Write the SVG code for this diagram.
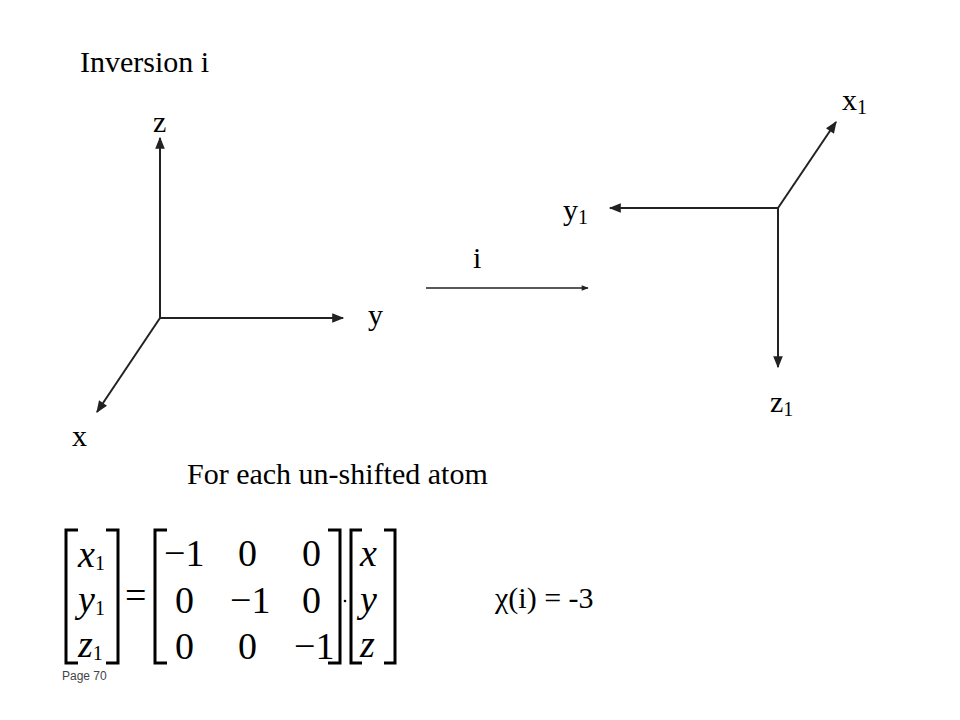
<svg xmlns="http://www.w3.org/2000/svg" width="960" height="720" viewBox="0 0 960 720">
<defs>
<marker id="ah" viewBox="0 0 10 10" refX="9" refY="5" markerWidth="14" markerHeight="12" markerUnits="userSpaceOnUse" orient="auto"><path d="M0,1 L10,5 L0,9 z" fill="#222"/></marker>
<marker id="ahs" viewBox="0 0 10 10" refX="9" refY="5" markerWidth="9" markerHeight="7" markerUnits="userSpaceOnUse" orient="auto"><path d="M0,1 L10,5 L0,9 z" fill="#222"/></marker>
</defs>
<style>
.t{font-family:"Liberation Serif",serif;font-size:30px;fill:#000}
.s{font-family:"Liberation Serif",serif;font-size:20px;fill:#000}
.m{font-family:"Liberation Serif",serif;font-size:38px;fill:#000}
.mi{font-family:"Liberation Serif",serif;font-size:38px;font-style:italic;fill:#000}
.ax{stroke:#222;stroke-width:2;fill:none;marker-end:url(#ah)}
.br{stroke:#000;stroke-width:3;fill:none}
</style>
<rect width="960" height="720" fill="#fff"/>
<text class="t" x="80" y="72">Inversion i</text>
<g id="connectors">
<line class="ax" x1="160" y1="318" x2="160" y2="138"/>
<line class="ax" x1="160" y1="318" x2="343" y2="318"/>
<line class="ax" x1="160" y1="318" x2="97" y2="412"/>
<line x1="426" y1="288" x2="588" y2="288" stroke="#222" stroke-width="1.5" marker-end="url(#ahs)"/>
<line class="ax" x1="778" y1="208" x2="836" y2="122"/>
<line class="ax" x1="778" y1="208" x2="610" y2="208"/>
<line class="ax" x1="778" y1="208" x2="778" y2="367"/>
</g>
<g id="labels">
<text class="t" x="153" y="132">z</text>
<text class="t" x="368" y="325">y</text>
<text class="t" x="72" y="446">x</text>
<text class="t" x="473" y="268">i</text>
<text class="t" x="842" y="110">x<tspan class="s" dy="4">1</tspan></text>
<text class="t" x="563" y="220">y<tspan class="s" dy="4">1</tspan></text>
<text class="t" x="770" y="412">z<tspan class="s" dy="4">1</tspan></text>
<text class="t" x="187" y="484">For each un-shifted atom</text>
<text class="t" x="495" y="608">χ(i) = -3</text>
<text x="62" y="680" style="font-family:'Liberation Sans',sans-serif;font-size:12px;fill:#444">Page 70</text>
</g>
<g id="matrix">
<path class="br" d="M78,530 H66 V663 H78"/>
<path class="br" d="M106,530 H118 V663 H106"/>
<text class="mi" x="78" y="567">x<tspan class="s" font-style="normal" font-size="22" dy="3">1</tspan></text>
<text class="mi" x="78" y="612">y<tspan class="s" font-style="normal" font-size="22" dy="3">1</tspan></text>
<text class="mi" x="78" y="657">z<tspan class="s" font-style="normal" font-size="22" dy="3">1</tspan></text>
<text class="m" x="125" y="608">=</text>
<path class="br" d="M167,530 H155 V663 H167"/>
<path class="br" d="M328,530 H340 V663 H328"/>
<text class="m" x="164" y="566">−1</text>
<text class="m" x="238" y="566">0</text>
<text class="m" x="302" y="566">0</text>
<text class="m" x="175" y="613">0</text>
<text class="m" x="230" y="613">−1</text>
<text class="m" x="302" y="613">0</text>
<text class="m" x="175" y="659">0</text>
<text class="m" x="238" y="659">0</text>
<text class="m" x="294" y="659">−1</text>
<circle cx="345" cy="601" r="1.3" fill="#000"/>
<path class="br" d="M362,530 H351 V663 H362"/>
<path class="br" d="M384,530 H395 V663 H384"/>
<text class="mi" x="360" y="566">x</text>
<text class="mi" x="360" y="612">y</text>
<text class="mi" x="360" y="657">z</text>
</g>
</svg>
